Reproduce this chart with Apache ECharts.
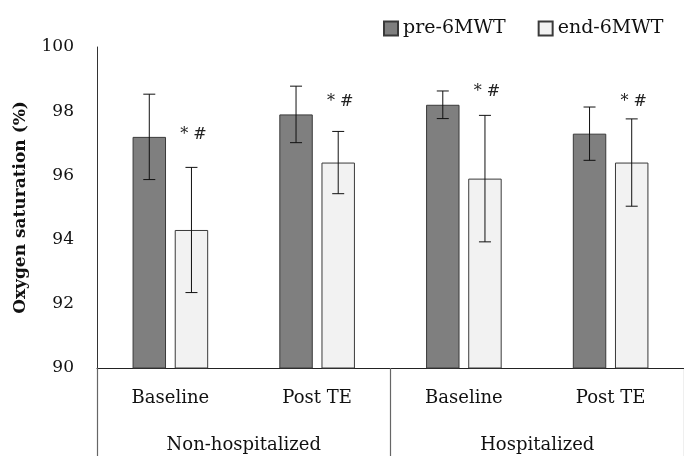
<!DOCTYPE html>
<html><head><meta charset="utf-8">
<script src="https://cdn.jsdelivr.net/npm/echarts@6/dist/echarts.min.js"></script>
<style>html,body{margin:0;padding:0;background:#fff}#c{width:684px;height:456px}</style>
</head><body><div id="c"></div>
<script>
const categories = ['Baseline', 'Post TE', 'Baseline', 'Post TE'];
const groups = ['Non-hospitalized', 'Hospitalized'];
const preMean = [97.2, 97.9, 98.2, 97.3];
const preSD = [1.33, 0.88, 0.43, 0.83];
const endMean = [94.3, 96.4, 95.9, 96.4];
const endSD = [1.95, 0.97, 1.97, 1.36];
const annotY = [97.25, 98.3, 98.6, 98.3];
const annotText = ['* #', '* #', '* #', '* #'];
const yTicks = [90, 92, 94, 96, 98, 100];

const FONT = 'DejaVu Serif';
const BAR_W = 0.228, GAP = 0.26;

function errItem(side) {
  return function (params, api) {
    const i = api.value(0), m = api.value(1), sd = api.value(2);
    const band = api.size([1, 0])[0];
    const bw = band * BAR_W;
    const off = side * (bw + bw * GAP) / 2;
    const top = api.coord([i, m + sd]);
    const bot = api.coord([i, m - sd]);
    const x = top[0] + off;
    const cap = 6;
    const st = { stroke: '#111', lineWidth: 1 };
    return { type: 'group', children: [
      { type: 'line', shape: { x1: x, y1: top[1], x2: x, y2: bot[1] }, style: st },
      { type: 'line', shape: { x1: x - cap, y1: top[1], x2: x + cap, y2: top[1] }, style: st },
      { type: 'line', shape: { x1: x - cap, y1: bot[1], x2: x + cap, y2: bot[1] }, style: st }
    ]};
  };
}

function annotItem(params, api) {
  const i = api.value(0), v = api.value(1);
  const band = api.size([1, 0])[0];
  const bw = band * BAR_W;
  const off = (bw + bw * GAP) / 2;
  const p = api.coord([i, v]);
  return { type: 'text', x: p[0] + off + 2, y: p[1],
    style: { text: annotText[params.dataIndex], font: 'italic 16px ' + FONT, fill: '#222', align: 'center', verticalAlign: 'middle' } };
}

const chart = echarts.init(document.getElementById('c'));
chart.setOption({
  animation: false,
  textStyle: { fontFamily: FONT },
  grid: { left: 97, right: -1, top: 47, bottom: 88, containLabel: false },
  legend: {
    left: 383, top: 19, padding: 0, icon: 'rect', itemWidth: 14, itemHeight: 14, itemGap: 32, itemTextGap: 3,
    textStyle: { fontFamily: FONT, fontSize: 19, color: '#111' },
    data: ['pre-6MWT', 'end-6MWT']
  },
  xAxis: [
    { type: 'category', data: categories, position: 'bottom',
      axisLine: { show: true, lineStyle: { color: '#222', width: 1 } },
      axisTick: { show: false },
      axisLabel: { fontFamily: FONT, fontSize: 18, color: '#111', margin: 21 } },
    { type: 'category', data: groups, position: 'bottom', offset: 0,
      axisLine: { show: false },
      axisTick: { show: true, length: 90, lineStyle: { color: '#666', width: 1.2 } },
      axisLabel: { fontFamily: FONT, fontSize: 18, color: '#111', margin: 68 } }
  ],
  yAxis: {
    type: 'value', min: yTicks[0], max: yTicks[yTicks.length - 1], interval: 2,
    name: 'Oxygen saturation (%)', nameLocation: 'middle', nameGap: 68,
    nameTextStyle: { fontFamily: FONT, fontSize: 17, fontWeight: 'bold', color: '#111' },
    axisLine: { show: true, lineStyle: { color: '#333', width: 1 } },
    axisTick: { show: false },
    splitLine: { show: false },
    axisLabel: { fontFamily: FONT, fontSize: 17, color: '#111', margin: 23 }
  },
  series: [
    { name: 'pre-6MWT', type: 'bar', xAxisIndex: 0, data: preMean, barWidth: (BAR_W * 100) + '%', barGap: (GAP * 100) + '%',
      itemStyle: { color: '#7f7f7f', borderColor: '#3a3a3a', borderWidth: 1 } },
    { name: 'end-6MWT', type: 'bar', xAxisIndex: 0, data: endMean, barWidth: (BAR_W * 100) + '%', barGap: (GAP * 100) + '%',
      itemStyle: { color: '#f2f2f2', borderColor: '#3a3a3a', borderWidth: 1 } },
    { type: 'custom', xAxisIndex: 0, renderItem: errItem(-1), z: 5,
      data: preMean.map((m, i) => [i, m, preSD[i]]) },
    { type: 'custom', xAxisIndex: 0, renderItem: errItem(1), z: 5,
      data: endMean.map((m, i) => [i, m, endSD[i]]) },
    { type: 'custom', xAxisIndex: 0, renderItem: annotItem, z: 5,
      data: annotY.map((v, i) => [i, v]) }
  ]
});
</script></body></html>
